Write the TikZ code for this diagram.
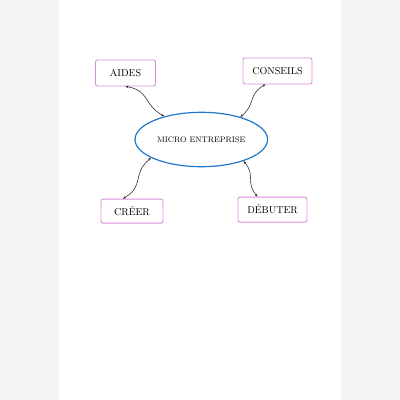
\documentclass[tikz,border=0pt]{standalone}
\usepackage{tikz}
\usetikzlibrary{arrows.meta, positioning, shapes.geometric}
\definecolor{pagegrey}{HTML}{F4F4F4}
\definecolor{boxpink}{HTML}{D98FD9}
\definecolor{ellblue}{HTML}{1F78C8}
\tikzset{
    box/.style={draw=boxpink, line width=0.9pt, rounded corners=2pt, minimum height=26pt, inner sep=2pt, font=\normalsize},
    bubble/.style={ellipse, draw=ellblue, line width=1.2pt, inner sep=0pt, font=\footnotesize},
    link/.style={{Stealth[length=3pt,width=2.4pt]}-{Stealth[length=3pt,width=2.4pt]}, line width=0.55pt, black!85, looseness=1.3},
}

\begin{document}
\begin{tikzpicture}
    \tikzset{
      node distance=28pt
    }

    \fill[pagegrey] (0,0) rectangle (400pt,-400pt);
    \fill[white] (59pt,0) rectangle (341pt,-400pt);

    \node[bubble, minimum width=132.6pt, minimum height=54.4pt] (micro) at (201.3pt,-139.5pt) {MICRO ENTREPRISE};
    \node[box, minimum width=60pt, above=25.3pt of micro, xshift=-75.8pt] (aides) {AIDES};
    \node[box, minimum width=69pt, above=27.3pt of micro, xshift=76.2pt] (conseils) {CONSEILS};
    \node[box, minimum width=62pt, minimum height=24pt, below=31.3pt of micro, xshift=-69.3pt] (creer) {CRÉER};
    \node[box, minimum width=69pt, minimum height=25pt, below=29.3pt of micro, xshift=71.2pt] (debuter) {DÉBUTER};

    \draw[link] (aides.south) to[out=-10, in=150] (micro.148);
    \draw[link] (micro.30) to[out=40, in=210] ([xshift=-12pt]conseils.south);
    \draw[link] (micro.200) to[out=220, in=30] ([xshift=-9pt]creer.north);
    \draw[link] (micro.333) to[out=-50, in=130] ([xshift=-15pt]debuter.north);
\end{tikzpicture}
\end{document}
